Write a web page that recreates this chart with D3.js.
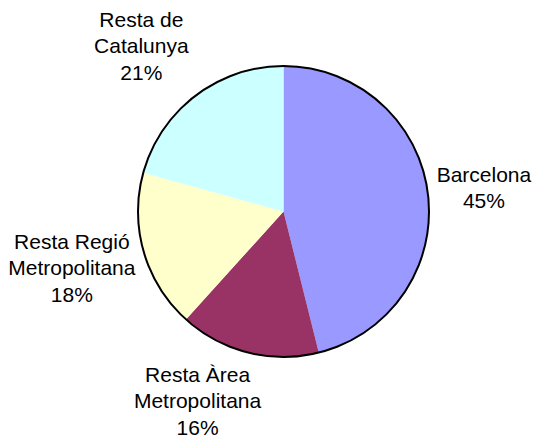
<!DOCTYPE html>
<html>
<head>
<meta charset="utf-8">
<script src="https://cdn.jsdelivr.net/npm/d3@7"></script>
<style>
  body { margin: 0; background: #fff; }
  text { font-family: "Liberation Sans", Arial, sans-serif; fill: #000; }
</style>
</head>
<body>
<div id="chart"></div>
<script>
// Slice data, clockwise from 12 o'clock
const regions = ["Barcelona", "Resta Àrea Metropolitana", "Resta Regió Metropolitana", "Resta de Catalunya"];
const labelLines = [["Barcelona"], ["Resta Àrea", "Metropolitana"], ["Resta Regió", "Metropolitana"], ["Resta de", "Catalunya"]];
const shares = [46.1, 15.6, 17.6, 20.7];
const shareLabels = ["45%", "16%", "18%", "21%"];
const colors = ["#9999ff", "#993366", "#ffffcc", "#ccffff"];

// layout tweaks for the data labels (pixels, from the mid-angle point)
const labelNudge = [[-8, 2], [-35, -14], [-10, -2], [-15, 2]];

const width = 533, height = 435;
const cx = 283.5, cy = 211.5, radius = 145.5;
const lineH = 26.5;

const svg = d3.select("#chart")
    .append("svg")
    .attr("width", width)
    .attr("height", height);

const g = svg.append("g")
    .attr("transform", `translate(${cx},${cy})`);

const pie = d3.pie().sort(null).value(d => d);
const arcs = pie(shares);

const arc = d3.arc().innerRadius(0).outerRadius(radius);
const labelArc = d3.arc().innerRadius(210).outerRadius(210);

g.selectAll("path.slice")
    .data(arcs)
    .enter()
    .append("path")
    .attr("class", "slice")
    .attr("d", arc)
    .attr("fill", (d, i) => colors[i]);

// outer rim
g.append("circle")
    .attr("r", radius)
    .attr("fill", "none")
    .attr("stroke", "#000")
    .attr("stroke-width", 2);

// labels
arcs.forEach((d, i) => {
    const [px, py] = labelArc.centroid(d);
    const lx = px + labelNudge[i][0];
    const ly = py + labelNudge[i][1];
    const lines = labelLines[i].concat([shareLabels[i]]);
    const y0 = ly - (lines.length - 1) * lineH / 2 + 7;
    const t = g.append("text")
        .attr("text-anchor", "middle")
        .style("font-size", "21px");
    lines.forEach((s, k) => {
        t.append("tspan")
            .attr("x", lx)
            .attr("y", y0 + k * lineH)
            .text(s);
    });
});
</script>
</body>
</html>
